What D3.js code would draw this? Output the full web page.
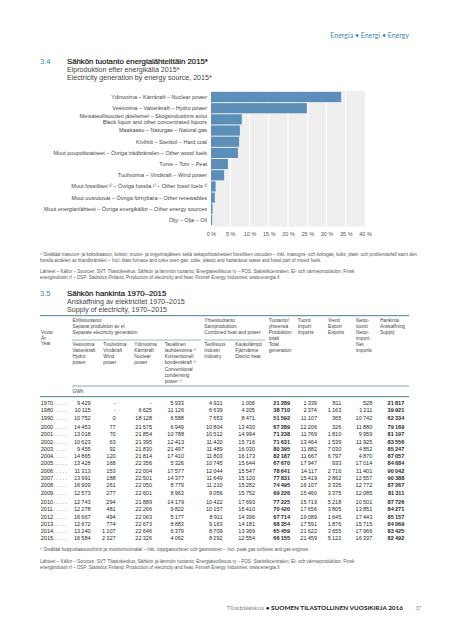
<!DOCTYPE html>
<html><head><meta charset="utf-8">
<script src="https://cdn.jsdelivr.net/npm/d3@7"></script>
<style>
html,body{margin:0;padding:0;background:#fff;}
svg{display:block;font-family:"Liberation Sans",Arial,sans-serif;}
</style></head>
<body>
<svg id="c" width="450" height="640"></svg>
<script>
// ---------- Data: chart 3.4 ----------
const barCategories = [
  ["Ydinvoima – Kärnkraft – Nuclear power"],
  ["Vesivoima – Vattenkraft – Hydro power"],
  ["Metsäteollisuuden jäteliemet – Skogsindustrins avlut", "Black liquor and other concentrated liquors"],
  ["Maakaasu – Naturgas – Natural gas"],
  ["Kivihiili – Stenkol – Hard coal"],
  ["Muut puupolttoaineet – Övriga trädbränslen – Other wood fuels"],
  ["Turve – Torv – Peat"],
  ["Tuulivoima – Vindkraft – Wind power"],
  ["Muut fossiiliset ¹⁾ – Övriga fossila ¹⁾ – Other fossil fuels ¹⁾"],
  ["Muut uusiutuvat – Övriga förnybara – Other renewables"],
  ["Muut energianlähteet – Övriga energikällor – Other energy sources"],
  ["Öljy – Olja – Oil"]
];
const barValues = [33.8, 24.9, 8.0, 7.5, 7.3, 7.0, 4.4, 3.4, 1.2, 1.0, 0.4, 0.3];
const xTicks = [0, 5, 10, 15, 20, 25, 30, 35, 40];

// ---------- Data: table 3.5 ----------
const years       = [1970, 1980, 1990, 2000, 2001, 2002, 2003, 2004, 2005, 2006, 2007, 2008, 2009, 2010, 2011, 2012, 2013, 2014, 2015];
const rowGroup    = [0,0,0, 1,1,1,1,1,1,1,1,1,1, 2,2,2,2,2,2];
const hydro       = [9429, 10115, 10752, 14453, 13018, 10623, 9455, 14865, 13428, 11313, 13991, 16909, 12573, 12743, 12278, 16667, 12672, 13240, 16584];
const wind        = [null, null, 0, 77, 70, 63, 92, 120, 168, 153, 188, 261, 277, 294, 481, 494, 774, 1107, 2327];
const nuclear     = [null, 6625, 18128, 21575, 21854, 21395, 21830, 21814, 22356, 22004, 22501, 22050, 22601, 21889, 22266, 22063, 22673, 22646, 22326];
const condensing  = [5933, 11126, 6588, 6949, 10788, 12413, 21497, 17410, 5326, 17577, 14377, 8779, 8963, 14179, 9822, 5177, 8883, 6379, 4062];
const industry    = [4921, 6639, 7653, 10804, 10512, 11420, 11489, 11803, 10745, 12044, 11649, 11210, 9056, 10422, 10157, 8911, 9163, 8709, 8292];
const districtHeat= [1006, 4205, 8471, 13430, 14994, 15716, 16030, 16173, 15644, 15547, 15120, 15282, 15752, 17693, 15410, 14396, 14181, 13369, 12554];
const totalGen    = [21289, 38710, 51592, 67289, 71238, 71631, 80395, 82187, 67670, 78641, 77831, 74495, 69226, 77225, 70420, 67714, 68354, 65459, 66155];
const imports     = [1339, 2374, 11107, 12206, 11769, 13464, 11882, 11667, 17947, 14117, 15419, 16107, 15460, 15719, 17656, 19089, 17591, 21622, 21459];
const exportsE    = [811, 1163, 365, 326, 1810, 1539, 7030, 6797, 933, 2716, 2862, 3335, 3375, 5218, 3805, 1645, 1876, 3655, 5122];
const netImports  = [528, 1211, 10742, 11880, 9959, 11925, 4852, 4870, 17014, 11401, 12557, 12772, 12085, 10501, 13851, 17443, 15715, 17966, 16337];
const supply      = [21817, 39921, 62334, 79169, 81197, 83556, 85247, 87057, 84684, 90042, 90388, 87267, 81311, 87726, 84271, 85157, 84069, 83425, 82492];

const tableColumns = [
  {vals: hydro, bold: false},
  {vals: wind, bold: false},
  {vals: nuclear, bold: false},
  {vals: condensing, bold: false},
  {vals: industry, bold: false},
  {vals: districtHeat, bold: false},
  {vals: totalGen, bold: true},
  {vals: imports, bold: false},
  {vals: exportsE, bold: false},
  {vals: netImports, bold: false},
  {vals: supply, bold: true}
];

// ---------- Layout ----------
const svg = d3.select("#c");
const blue = "#3d86b2";
const teal = "#2f6f86";
const txt = "#444";

// page header
svg.append("text").attr("x", 409).attr("y", 37.5).attr("text-anchor", "end")
  .attr("font-size", 7).attr("fill", blue).attr("font-family", "Lato, sans-serif")
  .text("Energia • Energi • Energy");

// ---- Section titles
function titleBlock(num, lines, y0, step) {
  svg.append("text").attr("x", 40).attr("y", y0).attr("font-size", 7.6).attr("fill", blue).text(num);
  lines.forEach((l, i) => {
    svg.append("text").attr("x", 67).attr("y", y0 + i * step)
      .attr("font-size", i === 0 ? 7.8 : 7.1)
      .attr("fill", i === 0 ? "#111" : "#444")
      .attr("stroke", i === 0 ? "#111" : "none").attr("stroke-width", i === 0 ? 0.18 : 0)
      .text(l);
  });
}
titleBlock("3.4", ["Sähkön tuotanto energialähteittäin 2015*", "Elproduktion efter energikälla 2015*", "Electricity generation by energy source, 2015*"], 63.5, 8.3);

// ---- Bar chart
const x = d3.scaleLinear().domain([0, 40]).range([211, 365]);
const y = d3.scaleBand().domain(d3.range(barValues.length)).range([91.5, 225.5]).paddingInner(0.09).paddingOuter(0.04);

svg.append("rect").attr("x", x(0)).attr("y", 91).attr("width", x(40) - x(0)).attr("height", 135.5).attr("fill", "#efefef");
svg.append("g").selectAll("line").data(xTicks.slice(1, -1)).join("line")
  .attr("x1", d => x(d)).attr("x2", d => x(d)).attr("y1", 91).attr("y2", 226.5)
  .attr("stroke", "#fff").attr("stroke-width", 1);

svg.append("g").selectAll("rect").data(barValues).join("rect")
  .attr("x", x(0)).attr("y", (d, i) => y(i)).attr("width", d => x(d) - x(0)).attr("height", y.bandwidth())
  .attr("fill", "#5b8fba");

const lab = svg.append("g").attr("font-size", 5.5).attr("fill", txt).attr("text-anchor", "end");
barCategories.forEach((lines, i) => {
  const cy = y(i) + y.bandwidth() / 2;
  lines.forEach((l, j) => {
    lab.append("text").attr("x", 207).attr("y", cy + (j - (lines.length - 1) / 2) * 6.2).attr("dy", "0.35em").text(l);
  });
});

const xAxis = d3.axisBottom(x).tickValues(xTicks).tickFormat(d => d + " %").tickSize(0).tickPadding(0);
const ax = svg.append("g").attr("transform", "translate(0,232)").call(xAxis);
ax.select(".domain").remove();
ax.selectAll("text").attr("font-size", 5.5).attr("fill", "#555").attr("font-family", "Liberation Sans, Arial, sans-serif");

// footnote + sources 3.4
const small = 4.6;
const notes1 = [
  "¹⁾ Sisältää masuuni- ja koksikaasun, koksin, muovi- ja ongelmajätteen sekä sekapolttoaineiden fossiilisen osuuden – Inkl. masugns- och koksgas, koks, plast- och problemavfall samt den",
  "fossila andelen av blandbränslen – Incl. blast furnace and coke oven gas, coke, plastic and hazardous waste and fossil part of mixed fuels."
];
notes1.forEach((t, i) => svg.append("text").attr("x", 40).attr("y", 256 + i * 5.8).attr("font-size", small).attr("fill", "#555").text(t));
const src = [
  "Lähteet – Källor – Sources: SVT: Tilastokeskus, Sähkön ja lämmön tuotanto; Energiateollisuus ry – FOS: Statistikcentralen, El- och värmeproduktion; Finsk",
  "energiindustri rf – OSF: Statistics Finland, Production of electricity and heat; Finnish Energy Industries; www.energia.fi"
];
src.forEach((t, i) => svg.append("text").attr("x", 40).attr("y", 272.5 + i * 6.2).attr("font-size", small).attr("fill", "#555").text(t));

titleBlock("3.5", ["Sähkön hankinta 1970–2015", "Anskaffning av elektricitet 1970–2015", "Supply of electricity, 1970–2015"], 296, 7.8);

// table rules
svg.append("line").attr("x1", 40).attr("x2", 409).attr("y1", 315.7).attr("y2", 315.7).attr("stroke", teal).attr("stroke-width", 0.9);
svg.append("line").attr("x1", 72).attr("x2", 201).attr("y1", 340).attr("y2", 340).attr("stroke", teal).attr("stroke-width", 0.5);
svg.append("line").attr("x1", 204).attr("x2", 265).attr("y1", 340).attr("y2", 340).attr("stroke", teal).attr("stroke-width", 0.5);
svg.append("line").attr("x1", 72).attr("x2", 409).attr("y1", 386).attr("y2", 386).attr("stroke", teal).attr("stroke-width", 0.6);
svg.append("line").attr("x1", 40).attr("x2", 409).attr("y1", 396.7).attr("y2", 396.7).attr("stroke", teal).attr("stroke-width", 0.9);

// header text
const hdrSize = 4.8;
const headers = [
  {x: 41, y: 332.7, lines: ["Vuosi", "År", "Year"], step: 5.4},
  {x: 72.5, y: 320.5, lines: ["Erillistuotanto", "Separat produktion av el", "Separate electricity generation"], step: 6},
  {x: 204.3, y: 320.5, lines: ["Yhteistuotanto", "Samproduktion", "Combined heat and power"], step: 6},
  {x: 268.7, y: 320.5, lines: ["Tuotanto/", "yhteensä", "Produktion", "totalt", "Total", "generation"], step: 5.9},
  {x: 297.7, y: 320.5, lines: ["Tuonti", "Import", "Imports"], step: 6},
  {x: 328, y: 320.5, lines: ["Vienti", "Export", "Exports"], step: 6},
  {x: 356, y: 320.5, lines: ["Netto-", "tuonti", "Netto-", "import", "Net", "imports"], step: 6},
  {x: 380, y: 320.5, lines: ["Hankinta", "Anskaffning", "Supply"], step: 6},
  {x: 72.5, y: 344.5, lines: ["Vesivoima", "Vattenkraft", "Hydro", "power"], step: 6.1},
  {x: 103.3, y: 344.5, lines: ["Tuulivoima", "Vindkraft", "Wind", "power"], step: 6.1},
  {x: 134.3, y: 344.5, lines: ["Ydinvoima", "Kärnkraft", "Nuclear", "power"], step: 6.1},
  {x: 164.7, y: 344.5, lines: ["Tavallinen", "lauhdevoima ¹⁾", "Konventionell", "kondenskraft ¹⁾", "Conventional", "condensing", "power ¹⁾"], step: 6.1},
  {x: 204.3, y: 344.5, lines: ["Teollisuus", "Industri", "Industry"], step: 6.1},
  {x: 235.3, y: 344.5, lines: ["Kaukolämpö", "Fjärrvärme", "District heat"], step: 6.1},
  {x: 72.5, y: 391.8, lines: ["GWh"], step: 6}
];
const hg = svg.append("g").attr("font-size", hdrSize).attr("fill", txt);
headers.forEach(h => h.lines.forEach((l, i) => {
  hg.append("text").attr("x", h.x).attr("y", h.y + i * h.step).attr("dy", "0.35em").text(l);
}));

// data rows
const fmt = d3.formatLocale({decimal: ",", thousands: "\u2009", grouping: [3], currency: ["", ""]}).format(",d");
const colRight = [90.7, 115.7, 152, 184, 222.7, 255, 290, 317, 341.3, 372.3, 404.3];
const groupStart = [403, 427, 502];
const groupFirst = [0, 3, 13];
const rowY = i => groupStart[rowGroup[i]] + (i - groupFirst[rowGroup[i]]) * 7.3;
const tg = svg.append("g").attr("font-size", 5.6).attr("fill", "#2a2a2a");
years.forEach((yr, i) => {
  tg.append("text").attr("x", 40.7).attr("y", rowY(i)).attr("dy", "0.35em").text(yr + ". . . . .");
  tableColumns.forEach((c, j) => {
    const v = c.vals[i];
    tg.append("text").attr("x", colRight[j]).attr("y", rowY(i)).attr("dy", "0.35em")
      .attr("text-anchor", "end").attr("font-weight", c.bold ? "bold" : "normal")
      .text(v === null ? "-" : fmt(v));
  });
});

// notes table
svg.append("text").attr("x", 40).attr("y", 551).attr("font-size", small).attr("fill", "#555")
  .text("¹⁾ Sisältää huippukaasuturbiinit ja moottorivoimalat – Inkl. toppgasturbiner och gasmotorer – Incl. peak gas turbines and gas engines.");
src.forEach((t, i) => svg.append("text").attr("x", 40).attr("y", 563 + i * 6.2).attr("font-size", small).attr("fill", "#555").text(t));

// page footer
const ft = svg.append("text").attr("x", 403).attr("y", 610).attr("text-anchor", "end").attr("font-size", 6.4).attr("font-family", "Lato, sans-serif");
ft.append("tspan").attr("fill", "#888").text("Tilastokeskus ");
ft.append("tspan").attr("fill", "#222").attr("font-weight", "bold").text("• SUOMEN TILASTOLLINEN VUOSIKIRJA 2016");
svg.append("text").attr("x", 421).attr("y", 610).attr("text-anchor", "end").attr("font-size", 5).attr("fill", "#888").text("37");
</script>
</body></html>
